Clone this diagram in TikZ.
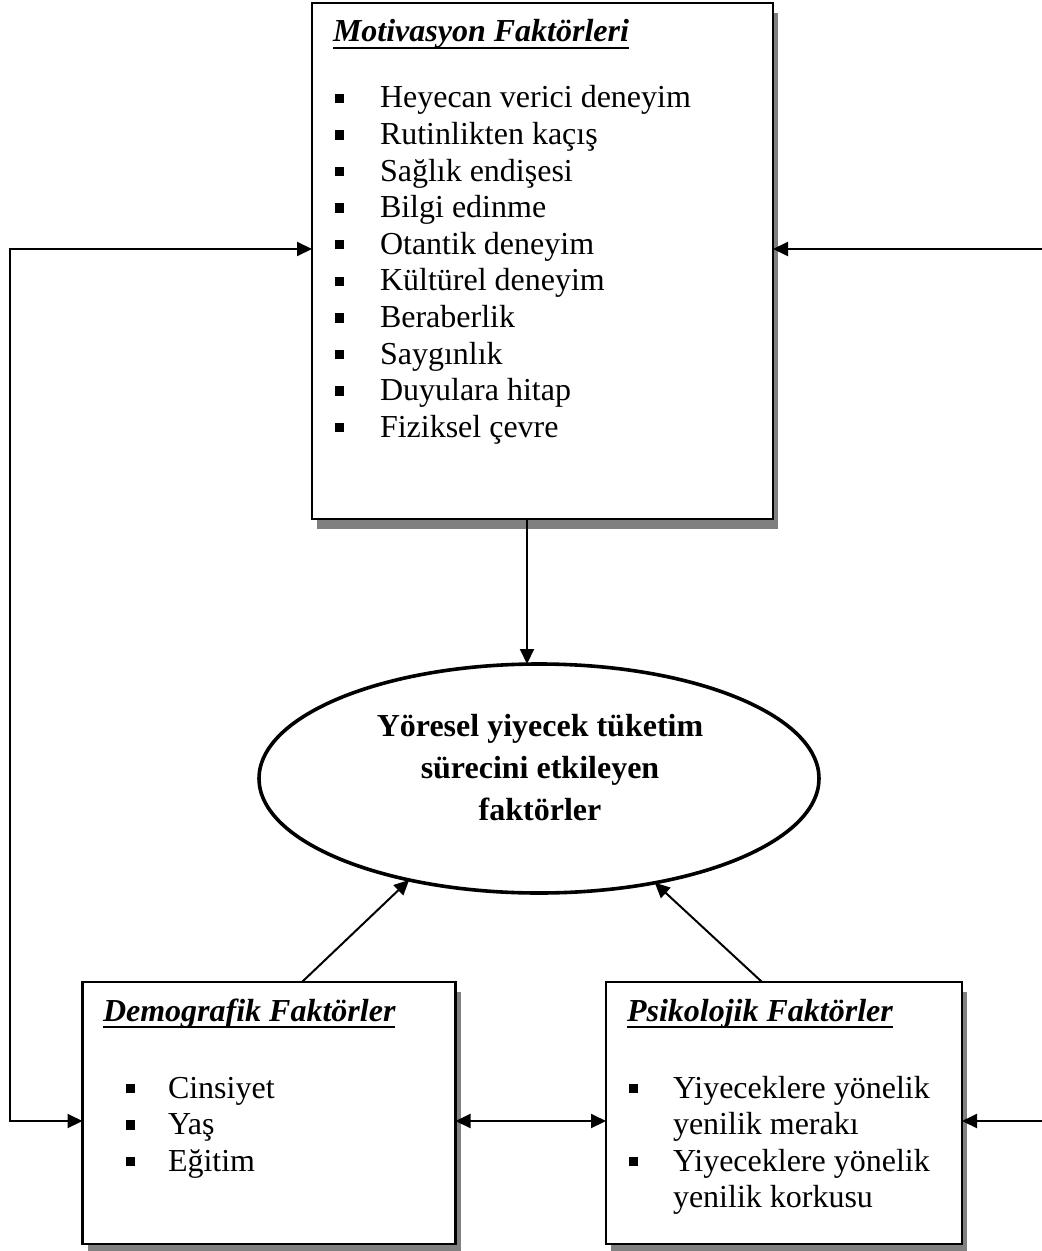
\documentclass[tikz,border=0pt]{standalone}
\usepackage{fontspec}
\setmainfont{Liberation Serif}
\usetikzlibrary{shadows,arrows.meta,shapes.geometric,calc}
\newcommand\bul[1][21pt]{\makebox[#1][l]{\raisebox{2.5pt}{\rule{4.7pt}{4.7pt}}}}
\newcommand\ttl[1]{\setbox0\hbox{\bfseries\itshape #1}\rlap{\rule[-3.4pt]{\wd0}{1.1pt}}\box0}
\begin{document}
\begin{tikzpicture}[x=0.5pt,y=-0.5pt,
  box/.style={draw, line width=1.25pt, fill=white, rectangle, inner sep=0pt, outer sep=0pt,
    drop shadow={shadow xshift=2.5pt, shadow yshift=-5pt, fill=black!50, opacity=1}},
  txt/.style={anchor=base west, inner sep=0pt, outer sep=0pt, font=\fontsize{16}{18.3}\selectfont},
  arr/.style={line width=1pt, -{Triangle[length=7.5pt,width=7pt]}},
  arrboth/.style={line width=1pt, {Triangle[length=7.5pt,width=7pt]}-{Triangle[length=7.5pt,width=7pt]}},
  ellbox/.style={draw, line width=1.8pt, ellipse, inner sep=0pt, outer sep=0pt}]
\useasboundingbox[fill=white] (0,0) rectangle (1042,1251);

% boxes
\node[box, minimum width=230.5pt, minimum height=258pt] (mot) at (542.5,261) {};
\node[box, minimum width=186.5pt, minimum height=131pt] (demo) at (269,1113) {};
\node[box, minimum width=178pt, minimum height=131pt] (psi) at (784,1113) {};
\node[ellbox, minimum width=280pt, minimum height=114.5pt] (ell) at (539,778.5) {};

% texts
\node[txt] (motT) at (333,42) {\ttl{Motivasyon Faktörleri}};
\node[txt] (motL) at (335,108) {\begin{tabular}[t]{@{}l@{}}
\bul[22.5pt]Heyecan verici deneyim\\
\bul[22.5pt]Rutinlikten kaçış\\
\bul[22.5pt]Sağlık endişesi\\
\bul[22.5pt]Bilgi edinme\\
\bul[22.5pt]Otantik deneyim\\
\bul[22.5pt]Kültürel deneyim\\
\bul[22.5pt]Beraberlik\\
\bul[22.5pt]Saygınlık\\
\bul[22.5pt]Duyulara hitap\\
\bul[22.5pt]Fiziksel çevre
\end{tabular}};

\node[txt] (demoT) at (103,1021) {\ttl{Demografik Faktörler}};
\node[txt] (demoL) at (126,1098) {\begin{tabular}[t]{@{}l@{}}
\bul Cinsiyet\\
\bul Yaş\\
\bul Eğitim
\end{tabular}};

\node[txt] (psiT) at (627,1021) {\ttl{Psikolojik Faktörler}};
\node[txt] (psiL) at (629,1098) {\begin{tabular}[t]{@{}l@{}}
\bul[22pt]Yiyeceklere yönelik\\
\hspace*{22pt}yenilik merakı\\
\bul[22pt]Yiyeceklere yönelik\\
\hspace*{22pt}yenilik korkusu
\end{tabular}};

\node[anchor=base, inner sep=0pt, font=\bfseries] (ellT) at (540,736)
  {\fontsize{16}{21}\selectfont\begin{tabular}[t]{@{}c@{}}Yöresel yiyecek tüketim\\ sürecini etkileyen\\ faktörler\end{tabular}};

% connectors
\coordinate (m1) at (527,519);
\coordinate (lt) at (10,249);
\coordinate (lb) at (10,1121);
\coordinate (rt) at (1042,249);
\coordinate (rb) at (1042,1121);
\coordinate (d1) at (302,982);
\coordinate (p1) at (762,982);

\draw[arr] (m1 |- mot.south) -- (m1 |- ell.north);
\draw[arr] (d1 |- demo.north) -- (ell.218);
\draw[arr] (p1 |- psi.north) -- (ell.318);
\draw[arrboth] (lt -| mot.west) -- (lt) -- (lb) -- (lb -| demo.west);
\draw[arr] (rt) -- (rt -| mot.east);
\draw[arr] (rb) -- (rb -| psi.east);
\draw[arrboth] (lb -| demo.east) -- (lb -| psi.west);
\end{tikzpicture}
\end{document}
